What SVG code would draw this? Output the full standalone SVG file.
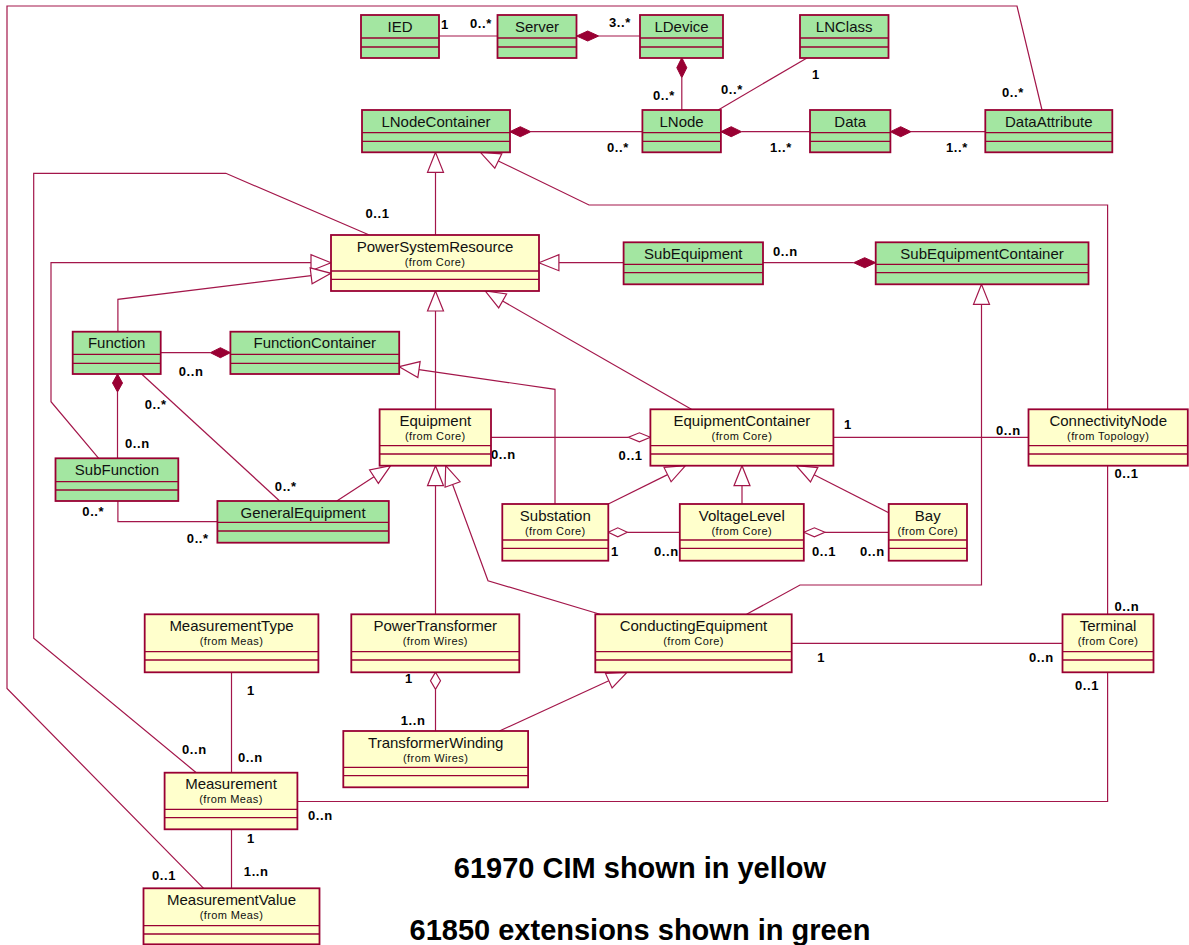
<svg xmlns="http://www.w3.org/2000/svg" width="1189" height="945" viewBox="0 0 1189 945">
<style>
.bg{fill:#ffffff}
.g{fill:#A3E6A1;stroke:#990033;stroke-width:1.8}
.y{fill:#FFFFCC;stroke:#990033;stroke-width:1.8}
.dv{stroke:#990033;stroke-width:1.3}
.t{font-family:"Liberation Sans",Arial,sans-serif;font-size:15px;text-anchor:middle;fill:#111}
.s{font-family:"Liberation Sans",Arial,sans-serif;font-size:11px;letter-spacing:0.4px;text-anchor:middle;fill:#111}
.m{font-family:"Liberation Sans",Arial,sans-serif;font-size:13px;font-weight:bold;letter-spacing:0.6px;fill:#000}
.c{fill:none;stroke:#A3164A;stroke-width:1.2}
.ah{fill:#ffffff;stroke:#A3164A;stroke-width:1.2}
.fd{fill:#990033;stroke:#990033;stroke-width:1}
.od{fill:#ffffff;stroke:#A3164A;stroke-width:1.2}
.big{font-family:"Liberation Sans",Arial,sans-serif;font-size:29px;font-weight:bold;text-anchor:middle;fill:#000}
</style>
<rect class="bg" x="0" y="0" width="1189" height="945"/>

<g id="connectors">
  <!-- associations / paths -->
  <polyline class="c" points="439,36 497.5,36"/>
  <polyline class="c" points="598.7,36 640,36"/>
  <polyline class="c" points="681.8,77.7 681.8,110"/>
  <polyline class="c" points="807.4,57.7 718.2,110"/>
  <polyline class="c" points="530.8,131.7 642.4,131.7"/>
  <polyline class="c" points="741.5,131.7 810,131.7"/>
  <polyline class="c" points="911,131.7 985.3,131.7"/>
  <polyline class="c" points="1042,110 1017,6 7,6 7,688.5 203.6,888.3"/>
  <polyline class="c" points="435.5,235 435.5,172.3"/>
  <polyline class="c" points="1107.6,409.3 1107.6,205 589,205 498.3,161"/>
  <polyline class="c" points="196.3,772.7 33.7,638.3 33.7,173.3 225.8,173.3 369.3,235"/>
  <polyline class="c" points="98.7,458.3 51,401.7 51,262.7 311,262.7"/>
  <polyline class="c" points="117.9,331.7 117.9,299.3 311.15,275.7"/>
  <polyline class="c" points="623.6,262.7 558.9,262.7"/>
  <polyline class="c" points="435.5,409.3 435.5,311"/>
  <polyline class="c" points="691.4,409.3 502.65,301"/>
  <polyline class="c" points="160.7,352.7 210.4,352.7"/>
  <polyline class="c" points="117.5,392 117.5,458.3"/>
  <polyline class="c" points="141.6,374 279.4,500.7"/>
  <polyline class="c" points="117.9,501 117.9,521.7 217.4,521.7"/>
  <polyline class="c" points="555,504 555,389.3 419,369.6"/>
  <polyline class="c" points="491,437.3 628.4,437.3"/>
  <polyline class="c" points="336.8,501 373.97,476.66"/>
  <polyline class="c" points="435.5,614.3 435.5,485.7"/>
  <polyline class="c" points="600,614.3 488,580.7 452.6,484.5"/>
  <polyline class="c" points="833.3,437.3 1028.5,437.3"/>
  <polyline class="c" points="608.3,504 667.6,474.6"/>
  <polyline class="c" points="742,504 742,485.7"/>
  <polyline class="c" points="888.7,512.7 814.1,474.8"/>
  <polyline class="c" points="627.3,532.3 679.8,532.3"/>
  <polyline class="c" points="824.9,532.3 888.7,532.3"/>
  <polyline class="c" points="763,262.7 853.7,262.7"/>
  <polyline class="c" points="746.6,614.3 800,585 981.5,585 981.5,304.3"/>
  <polyline class="c" points="1107.6,465.7 1107.6,614.3"/>
  <polyline class="c" points="791.7,643.3 1062.5,643.3"/>
  <polyline class="c" points="1107.6,672.3 1107.6,801.5 297.4,801.5"/>
  <polyline class="c" points="435.5,689.3 435.5,731"/>
  <polyline class="c" points="499.4,731 608.8,680.7"/>
  <polyline class="c" points="231.5,672.3 231.5,772.7"/>
  <polyline class="c" points="231.5,829.3 231.5,888.3"/>

  <!-- generalization arrowheads -->
  <polygon class="ah" points="435.5,152.3 427.5,172.3 443.5,172.3"/>
  <polygon class="ah" points="480.3,152.3 501.8,153.8 494.8,168.2"/>
  <polygon class="ah" points="331,262.7 311,254.7 311,270.7"/>
  <polygon class="ah" points="331,273.3 312.1,283.7 310.2,267.8"/>
  <polygon class="ah" points="538.9,262.7 558.9,254.7 558.9,270.7"/>
  <polygon class="ah" points="435.5,291 427.5,311 443.5,311"/>
  <polygon class="ah" points="485.3,291 506.6,294 498.7,307.9"/>
  <polygon class="ah" points="399.2,366.7 420.15,361.65 417.85,377.5"/>
  <polygon class="ah" points="390.7,465.7 378.35,483.35 369.6,469.97"/>
  <polygon class="ah" points="435.5,465.7 427.5,485.7 443.5,485.7"/>
  <polygon class="ah" points="445.7,465.7 460.1,481.7 445.1,487.2"/>
  <polygon class="ah" points="685.5,465.7 671.1,481.8 664,467.4"/>
  <polygon class="ah" points="742,465.7 734,485.7 750,485.7"/>
  <polygon class="ah" points="796.3,465.7 817.8,467.6 810.5,481.9"/>
  <polygon class="ah" points="981.5,284.3 973.5,304.3 989.5,304.3"/>
  <polygon class="ah" points="627,672.3 612.1,688 605.5,673.4"/>

  <!-- composition diamonds -->
  <polygon class="fd" points="576.7,36 587.7,31 598.7,36 587.7,41"/>
  <polygon class="fd" points="681.8,57.7 686.8,67.7 681.8,77.7 676.8,67.7"/>
  <polygon class="fd" points="509.8,131.7 520.3,126.7 530.8,131.7 520.3,136.7"/>
  <polygon class="fd" points="720.9,131.7 731.2,126.7 741.5,131.7 731.2,136.7"/>
  <polygon class="fd" points="890.4,131.7 900.7,126.7 911,131.7 900.7,136.7"/>
  <polygon class="fd" points="230.4,352.7 220.4,347.7 210.4,352.7 220.4,357.7"/>
  <polygon class="fd" points="117.5,374 122.5,383 117.5,392 112.5,383"/>
  <polygon class="fd" points="875.7,262.7 864.7,257.7 853.7,262.7 864.7,267.7"/>

  <!-- aggregation diamonds -->
  <polygon class="od" points="650.4,437.3 639.4,432.8 628.4,437.3 639.4,441.8"/>
  <polygon class="od" points="608.3,532.3 617.8,527.8 627.3,532.3 617.8,536.8"/>
  <polygon class="od" points="803.9,532.3 814.4,527.8 824.9,532.3 814.4,536.8"/>
  <polygon class="od" points="435.5,672.3 440.5,680.8 435.5,689.3 430.5,680.8"/>

  <!-- multiplicities -->
  <text class="m" x="441" y="29">1</text>
  <text class="m" x="470" y="27.5">0..*</text>
  <text class="m" x="609" y="27">3..*</text>
  <text class="m" x="653" y="100">0..*</text>
  <text class="m" x="812" y="79">1</text>
  <text class="m" x="721" y="94">0..*</text>
  <text class="m" x="607" y="152">0..*</text>
  <text class="m" x="770" y="152">1..*</text>
  <text class="m" x="946" y="152">1..*</text>
  <text class="m" x="1002" y="97">0..*</text>
  <text class="m" x="365.5" y="217.5">0..1</text>
  <text class="m" x="773" y="256">0..n</text>
  <text class="m" x="178.7" y="375.5">0..n</text>
  <text class="m" x="144.7" y="409">0..*</text>
  <text class="m" x="125" y="447.5">0..n</text>
  <text class="m" x="274.8" y="491">0..*</text>
  <text class="m" x="82.3" y="515.5">0..*</text>
  <text class="m" x="186.8" y="543">0..*</text>
  <text class="m" x="491" y="459">0..n</text>
  <text class="m" x="618.6" y="460">0..1</text>
  <text class="m" x="844" y="429">1</text>
  <text class="m" x="996" y="435">0..n</text>
  <text class="m" x="1114.4" y="477.5">0..1</text>
  <text class="m" x="611" y="556">1</text>
  <text class="m" x="654" y="556">0..n</text>
  <text class="m" x="812" y="556">0..1</text>
  <text class="m" x="860" y="556">0..n</text>
  <text class="m" x="1114.4" y="610.5">0..n</text>
  <text class="m" x="817.3" y="661.5">1</text>
  <text class="m" x="1029" y="661.5">0..n</text>
  <text class="m" x="1075" y="690">0..1</text>
  <text class="m" x="405" y="682.5">1</text>
  <text class="m" x="400.7" y="725">1..n</text>
  <text class="m" x="247" y="695">1</text>
  <text class="m" x="182" y="754">0..n</text>
  <text class="m" x="238" y="761.5">0..n</text>
  <text class="m" x="308" y="820">0..n</text>
  <text class="m" x="247" y="843">1</text>
  <text class="m" x="243.8" y="876">1..n</text>
  <text class="m" x="152" y="880">0..1</text>
</g>

<!-- Green (61850) nodes -->
<g id="IED"><rect class="g" x="361" y="15" width="78" height="43"/><line class="dv" x1="361" y1="38" x2="439" y2="38"/><line class="dv" x1="361" y1="47" x2="439" y2="47"/><text class="t" x="400" y="32">IED</text></g>
<g id="Server"><rect class="g" x="497.5" y="15" width="79" height="43"/><line class="dv" x1="497.5" y1="38" x2="576.5" y2="38"/><line class="dv" x1="497.5" y1="47" x2="576.5" y2="47"/><text class="t" x="537" y="32">Server</text></g>
<g id="LDevice"><rect class="g" x="640" y="15" width="83" height="43"/><line class="dv" x1="640" y1="38" x2="723" y2="38"/><line class="dv" x1="640" y1="47" x2="723" y2="47"/><text class="t" x="681.5" y="32">LDevice</text></g>
<g id="LNClass"><rect class="g" x="800" y="15" width="88.5" height="43"/><line class="dv" x1="800" y1="38" x2="888.5" y2="38"/><line class="dv" x1="800" y1="47" x2="888.5" y2="47"/><text class="t" x="844.2" y="32">LNClass</text></g>
<g id="LNodeContainer"><rect class="g" x="362" y="110" width="148" height="42.3"/><line class="dv" x1="362" y1="132.7" x2="510" y2="132.7"/><line class="dv" x1="362" y1="141.3" x2="510" y2="141.3"/><text class="t" x="436" y="126.5">LNodeContainer</text></g>
<g id="LNode"><rect class="g" x="642.4" y="110" width="78.5" height="42.3"/><line class="dv" x1="642.4" y1="132.7" x2="720.9" y2="132.7"/><line class="dv" x1="642.4" y1="141.3" x2="720.9" y2="141.3"/><text class="t" x="681.6" y="126.5">LNode</text></g>
<g id="Data"><rect class="g" x="810" y="110" width="80.4" height="42.3"/><line class="dv" x1="810" y1="132.7" x2="890.4" y2="132.7"/><line class="dv" x1="810" y1="141.3" x2="890.4" y2="141.3"/><text class="t" x="850.2" y="126.5">Data</text></g>
<g id="DataAttribute"><rect class="g" x="985.3" y="110" width="127" height="42.3"/><line class="dv" x1="985.3" y1="132.7" x2="1112.3" y2="132.7"/><line class="dv" x1="985.3" y1="141.3" x2="1112.3" y2="141.3"/><text class="t" x="1048.8" y="126.5">DataAttribute</text></g>
<g id="SubEquipment"><rect class="g" x="623.6" y="242.3" width="139.4" height="42"/><line class="dv" x1="623.6" y1="264.3" x2="763" y2="264.3"/><line class="dv" x1="623.6" y1="272.7" x2="763" y2="272.7"/><text class="t" x="693.3" y="258.8">SubEquipment</text></g>
<g id="SubEquipmentContainer"><rect class="g" x="875.7" y="242.3" width="212.8" height="42"/><line class="dv" x1="875.7" y1="264.3" x2="1088.5" y2="264.3"/><line class="dv" x1="875.7" y1="272.7" x2="1088.5" y2="272.7"/><text class="t" x="982.1" y="258.8">SubEquipmentContainer</text></g>
<g id="Function"><rect class="g" x="72.7" y="331.7" width="88" height="42.3"/><line class="dv" x1="72.7" y1="354.3" x2="160.7" y2="354.3"/><line class="dv" x1="72.7" y1="363.3" x2="160.7" y2="363.3"/><text class="t" x="116.7" y="348.2">Function</text></g>
<g id="FunctionContainer"><rect class="g" x="230.4" y="331.7" width="168.8" height="42.3"/><line class="dv" x1="230.4" y1="354.3" x2="399.2" y2="354.3"/><line class="dv" x1="230.4" y1="363.3" x2="399.2" y2="363.3"/><text class="t" x="314.8" y="348.2">FunctionContainer</text></g>
<g id="SubFunction"><rect class="g" x="55.5" y="458.3" width="122.8" height="42.7"/><line class="dv" x1="55.5" y1="481.7" x2="178.3" y2="481.7"/><line class="dv" x1="55.5" y1="490" x2="178.3" y2="490"/><text class="t" x="116.9" y="474.8">SubFunction</text></g>
<g id="GeneralEquipment"><rect class="g" x="217.4" y="501" width="171.4" height="41.7"/><line class="dv" x1="217.4" y1="522.3" x2="388.8" y2="522.3"/><line class="dv" x1="217.4" y1="531" x2="388.8" y2="531"/><text class="t" x="303.1" y="517.5">GeneralEquipment</text></g>

<!-- Yellow (61970 CIM) nodes -->
<g id="PowerSystemResource"><rect class="y" x="331" y="235" width="208" height="56"/><line class="dv" x1="331" y1="271" x2="539" y2="271"/><line class="dv" x1="331" y1="279.3" x2="539" y2="279.3"/><text class="t" x="435" y="251.5">PowerSystemResource</text><text class="s" x="435" y="265.5">(from Core)</text></g>
<g id="Equipment"><rect class="y" x="379.6" y="409.3" width="111.4" height="56.4"/><line class="dv" x1="379.6" y1="445.7" x2="491" y2="445.7"/><line class="dv" x1="379.6" y1="454" x2="491" y2="454"/><text class="t" x="435.3" y="426">Equipment</text><text class="s" x="435.3" y="439.5">(from Core)</text></g>
<g id="EquipmentContainer"><rect class="y" x="650.4" y="409.3" width="183" height="56.4"/><line class="dv" x1="650.4" y1="445.7" x2="833.4" y2="445.7"/><line class="dv" x1="650.4" y1="454" x2="833.4" y2="454"/><text class="t" x="741.9" y="426">EquipmentContainer</text><text class="s" x="741.9" y="439.5">(from Core)</text></g>
<g id="ConnectivityNode"><rect class="y" x="1028.5" y="409.3" width="159.3" height="56.4"/><line class="dv" x1="1028.5" y1="445.7" x2="1187.8" y2="445.7"/><line class="dv" x1="1028.5" y1="454" x2="1187.8" y2="454"/><text class="t" x="1108.2" y="426">ConnectivityNode</text><text class="s" x="1108.2" y="439.5">(from Topology)</text></g>
<g id="Substation"><rect class="y" x="502.3" y="504" width="106" height="56.7"/><line class="dv" x1="502.3" y1="540" x2="608.3" y2="540"/><line class="dv" x1="502.3" y1="548.3" x2="608.3" y2="548.3"/><text class="t" x="555.3" y="520.5">Substation</text><text class="s" x="555.3" y="534.5">(from Core)</text></g>
<g id="VoltageLevel"><rect class="y" x="679.8" y="504" width="124" height="56.7"/><line class="dv" x1="679.8" y1="540" x2="803.8" y2="540"/><line class="dv" x1="679.8" y1="548.3" x2="803.8" y2="548.3"/><text class="t" x="741.8" y="520.5">VoltageLevel</text><text class="s" x="741.8" y="534.5">(from Core)</text></g>
<g id="Bay"><rect class="y" x="888.7" y="504" width="78.3" height="56.7"/><line class="dv" x1="888.7" y1="540" x2="967" y2="540"/><line class="dv" x1="888.7" y1="548.3" x2="967" y2="548.3"/><text class="t" x="927.8" y="520.5">Bay</text><text class="s" x="927.8" y="534.5">(from Core)</text></g>
<g id="MeasurementType"><rect class="y" x="144.7" y="614.3" width="173.7" height="58"/><line class="dv" x1="144.7" y1="651.7" x2="318.4" y2="651.7"/><line class="dv" x1="144.7" y1="660" x2="318.4" y2="660"/><text class="t" x="231.5" y="631">MeasurementType</text><text class="s" x="231.5" y="645">(from Meas)</text></g>
<g id="PowerTransformer"><rect class="y" x="351.3" y="614.3" width="168" height="58"/><line class="dv" x1="351.3" y1="651.7" x2="519.3" y2="651.7"/><line class="dv" x1="351.3" y1="660" x2="519.3" y2="660"/><text class="t" x="435.3" y="631">PowerTransformer</text><text class="s" x="435.3" y="645">(from Wires)</text></g>
<g id="ConductingEquipment"><rect class="y" x="595.3" y="614.3" width="196.4" height="58"/><line class="dv" x1="595.3" y1="651.7" x2="791.7" y2="651.7"/><line class="dv" x1="595.3" y1="660" x2="791.7" y2="660"/><text class="t" x="693.5" y="631">ConductingEquipment</text><text class="s" x="693.5" y="645">(from Core)</text></g>
<g id="Terminal"><rect class="y" x="1062.5" y="614.3" width="91" height="58"/><line class="dv" x1="1062.5" y1="651.7" x2="1153.5" y2="651.7"/><line class="dv" x1="1062.5" y1="660" x2="1153.5" y2="660"/><text class="t" x="1108" y="631">Terminal</text><text class="s" x="1108" y="645">(from Core)</text></g>
<g id="TransformerWinding"><rect class="y" x="343.3" y="731" width="184.8" height="56.3"/><line class="dv" x1="343.3" y1="767.3" x2="528.1" y2="767.3"/><line class="dv" x1="343.3" y1="775.7" x2="528.1" y2="775.7"/><text class="t" x="435.7" y="747.5">TransformerWinding</text><text class="s" x="435.7" y="761.5">(from Wires)</text></g>
<g id="Measurement"><rect class="y" x="164.6" y="772.7" width="132.8" height="56.6"/><line class="dv" x1="164.6" y1="809.3" x2="297.4" y2="809.3"/><line class="dv" x1="164.6" y1="817.7" x2="297.4" y2="817.7"/><text class="t" x="231" y="789.3">Measurement</text><text class="s" x="231" y="803.3">(from Meas)</text></g>
<g id="MeasurementValue"><rect class="y" x="143.5" y="888.3" width="176" height="56"/><line class="dv" x1="143.5" y1="925.7" x2="319.5" y2="925.7"/><line class="dv" x1="143.5" y1="934" x2="319.5" y2="934"/><text class="t" x="231.5" y="905">MeasurementValue</text><text class="s" x="231.5" y="919">(from Meas)</text></g>

<g id="legend">
  <text class="big" x="640" y="878">61970 CIM shown in yellow</text>
  <text class="big" x="640" y="940">61850 extensions shown in green</text>
</g>
</svg>
